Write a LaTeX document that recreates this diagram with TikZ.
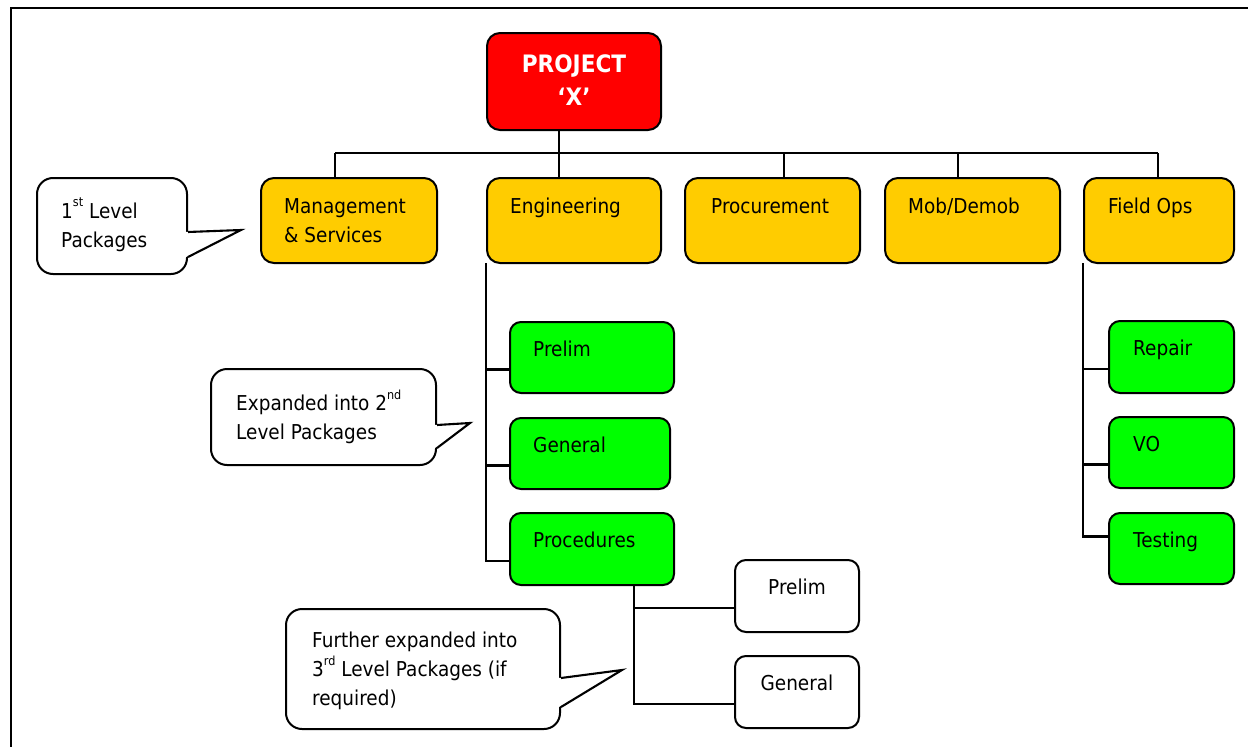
\documentclass[tikz,border=0pt]{standalone}
\usepackage{fontspec}
\setmainfont{DejaVu Sans}[FakeStretch=0.9]
\usetikzlibrary{calc}
\definecolor{boxred}{HTML}{FF0000}
\definecolor{boxyellow}{HTML}{FFCC00}
\definecolor{boxgreen}{HTML}{00FF00}
\newcommand\supr[1]{\raisebox{0.55em}{\fontsize{12.5}{12}\selectfont #1}}
\begin{document}
\begin{tikzpicture}[x=1pt,y=-1pt,
  basebox/.style={draw=black, line width=2pt, rectangle, rounded corners=13pt, inner sep=0pt, anchor=north west},
  redbox/.style={basebox, fill=boxred},
  l1box/.style={basebox, fill=boxyellow, minimum height=85pt},
  l2box/.style={basebox, fill=boxgreen, rounded corners=11pt},
  l3box/.style={basebox, fill=white, rounded corners=11pt, minimum width=124pt, minimum height=72pt},
  callbox/.style={basebox, fill=white, rounded corners=16pt},
  lbl/.style={inner sep=0pt, anchor=north west, align=left, font=\fontsize{20.5}{29}\selectfont},
  clbl/.style={lbl, anchor=north, align=center},
  conn/.style={line width=2.1pt, line join=miter},
  frame/.style={line width=2.4pt}]
\useasboundingbox (0,0) rectangle (1248,747);
% outer frame (partly outside the picture)
\draw[frame] (11,747) -- (11,8) -- (1248,8);

% connectors first (boxes drawn on top)
\coordinate (b1) at (335,153);
\coordinate (b2) at (559,153);
\coordinate (b3) at (784,153);
\coordinate (b4) at (958,153);
\coordinate (b5) at (1158,153);

% top node
\node[redbox, minimum width=174pt, minimum height=97pt] (proj) at (486,32) {};
\node[clbl, font=\fontsize{24}{33}\selectfont\bfseries, text=white] (projT) at ($(proj.north)+(0,22)$) {PROJECT\\‘X’};

% level 1
\node[l1box, minimum width=176pt] (mgmt) at (260,177) {};
\node[l1box, minimum width=174pt] (eng)  at (486,177) {};
\node[l1box, minimum width=175pt] (proc) at (684,177) {};
\node[l1box, minimum width=175pt] (mob)  at (884,177) {};
\node[l1box, minimum width=150pt] (fops) at (1083,177) {};
\node[lbl] (mgmtT) at ($(mgmt.north west)+(24,21)$) {Management\\\& Services};
\node[lbl] (engT)  at ($(eng.north west)+(24,21)$) {Engineering};
\node[lbl] (procT) at ($(proc.north west)+(27,21)$) {Procurement};
\node[lbl] (mobT)  at ($(mob.north west)+(24,21)$) {Mob/Demob};
\node[lbl] (fopsT) at ($(fops.north west)+(25,21)$) {Field Ops};

% level 2 (engineering)
\node[l2box, minimum width=164pt, minimum height=71pt] (prelim) at (509,321) {};
\node[l2box, minimum width=160pt, minimum height=71pt] (general) at (509,417) {};
\node[l2box, minimum width=164pt, minimum height=72pt] (procd) at (509,512) {};
\node[lbl] (prelimT)  at ($(prelim.north west)+(24,20)$) {Prelim};
\node[lbl] (generalT) at ($(general.north west)+(24,20)$) {General};
\node[lbl] (procdT)   at ($(procd.north west)+(24,20)$) {Procedures};

% level 2 (field ops)
\node[l2box, minimum width=125pt, minimum height=72pt] (repair) at (1108,320) {};
\node[l2box, minimum width=125pt, minimum height=71pt] (vo) at (1108,416) {};
\node[l2box, minimum width=125pt, minimum height=71pt] (testing) at (1108,512) {};
\node[lbl] (repairT)  at ($(repair.north west)+(25,20)$) {Repair};
\node[lbl] (voT)      at ($(vo.north west)+(25,20)$) {VO};
\node[lbl] (testingT) at ($(testing.north west)+(25,20)$) {Testing};

% level 3
\node[l3box] (prelim3) at (734,559) {};
\node[l3box] (general3) at (734,655) {};
\node[clbl] (prelim3T) at ($(prelim3.north)+(0,20)$) {Prelim};
\node[clbl] (general3T) at ($(general3.north)+(0,20)$) {General};

% connectors: top bus
\draw[conn] (proj.south -| b2) -- (b2);
\draw[conn] (b1) -- (b5);
\draw[conn] (b1) -- (b1 |- mgmt.north);
\draw[conn] (b2) -- (b2 |- eng.north);
\draw[conn] (b3) -- (b3 |- proc.north);
\draw[conn] (b4) -- (b4 |- mob.north);
\draw[conn] (b5) -- (b5 |- fops.north);

% engineering branch
\coordinate (e1) at ($(prelim.west)+(0,12)$);
\coordinate (e2) at ($(general.west)+(0,12)$);
\coordinate (e3) at ($(procd.west)+(0,12)$);
\draw[conn] ($(eng.south west)+(0,-1)$) |- (e3);
\draw[conn] (e1) -- (e1 -| eng.south west);
\draw[conn] (e2) -- (e2 -| eng.south west);

% field ops branch
\coordinate (f1) at ($(repair.west)+(0,12)$);
\coordinate (f2) at ($(vo.west)+(0,12)$);
\coordinate (f3) at ($(testing.west)+(0,-12)$);
\draw[conn] ($(fops.south west)+(0,-1)$) |- (f3);
\draw[conn] (f1) -- (f1 -| fops.south west);
\draw[conn] (f2) -- (f2 -| fops.south west);

% procedures branch
\coordinate (p0) at (634,584);
\coordinate (p1) at ($(prelim3.west)+(0,12)$);
\coordinate (p2) at ($(general3.west)+(0,12)$);
\draw[conn] (p0) |- (p2);
\draw[conn] (p1) -- (p1 -| p0);

% callouts
\node[callbox, minimum width=150pt, minimum height=96pt] (c1) at (36,177) {};
\coordinate (c1tip) at (241,230);
\fill[white] ($(c1.north east)+(-2,55)$) -- (c1tip) -- ($(c1.north east)+(-2,80)$) -- cycle;
\draw[conn] ($(c1.north east)+(0,55)$) -- (c1tip) -- ($(c1.north east)+(0,80)$);
\node[lbl] (c1txt) at ($(c1.north west)+(25,21)$) {1\supr{st} Level\\Packages};

\node[callbox, minimum width=225pt, minimum height=96pt] (c2) at (210,368) {};
\coordinate (c2tip) at (470,423);
\fill[white] ($(c2.north east)+(-2,57)$) -- (c2tip) -- ($(c2.north east)+(-2,80)$) -- cycle;
\draw[conn] ($(c2.north east)+(0,57)$) -- (c2tip) -- ($(c2.north east)+(0,80)$);
\node[lbl] (c2txt) at ($(c2.north west)+(26,22)$) {Expanded into 2\supr{nd}\\Level Packages};

\node[callbox, minimum width=274pt, minimum height=120pt] (c3) at (285,608) {};
\coordinate (c3tip) at (622,670);
\fill[white] ($(c3.north east)+(-2,70)$) -- (c3tip) -- ($(c3.north east)+(-2,99)$) -- cycle;
\draw[conn] ($(c3.north east)+(0,70)$) -- (c3tip) -- ($(c3.north east)+(0,99)$);
\node[lbl] (c3txt) at ($(c3.north west)+(27,24)$) {Further expanded into\\3\supr{rd} Level Packages (if\\required)};
\end{tikzpicture}
\end{document}
